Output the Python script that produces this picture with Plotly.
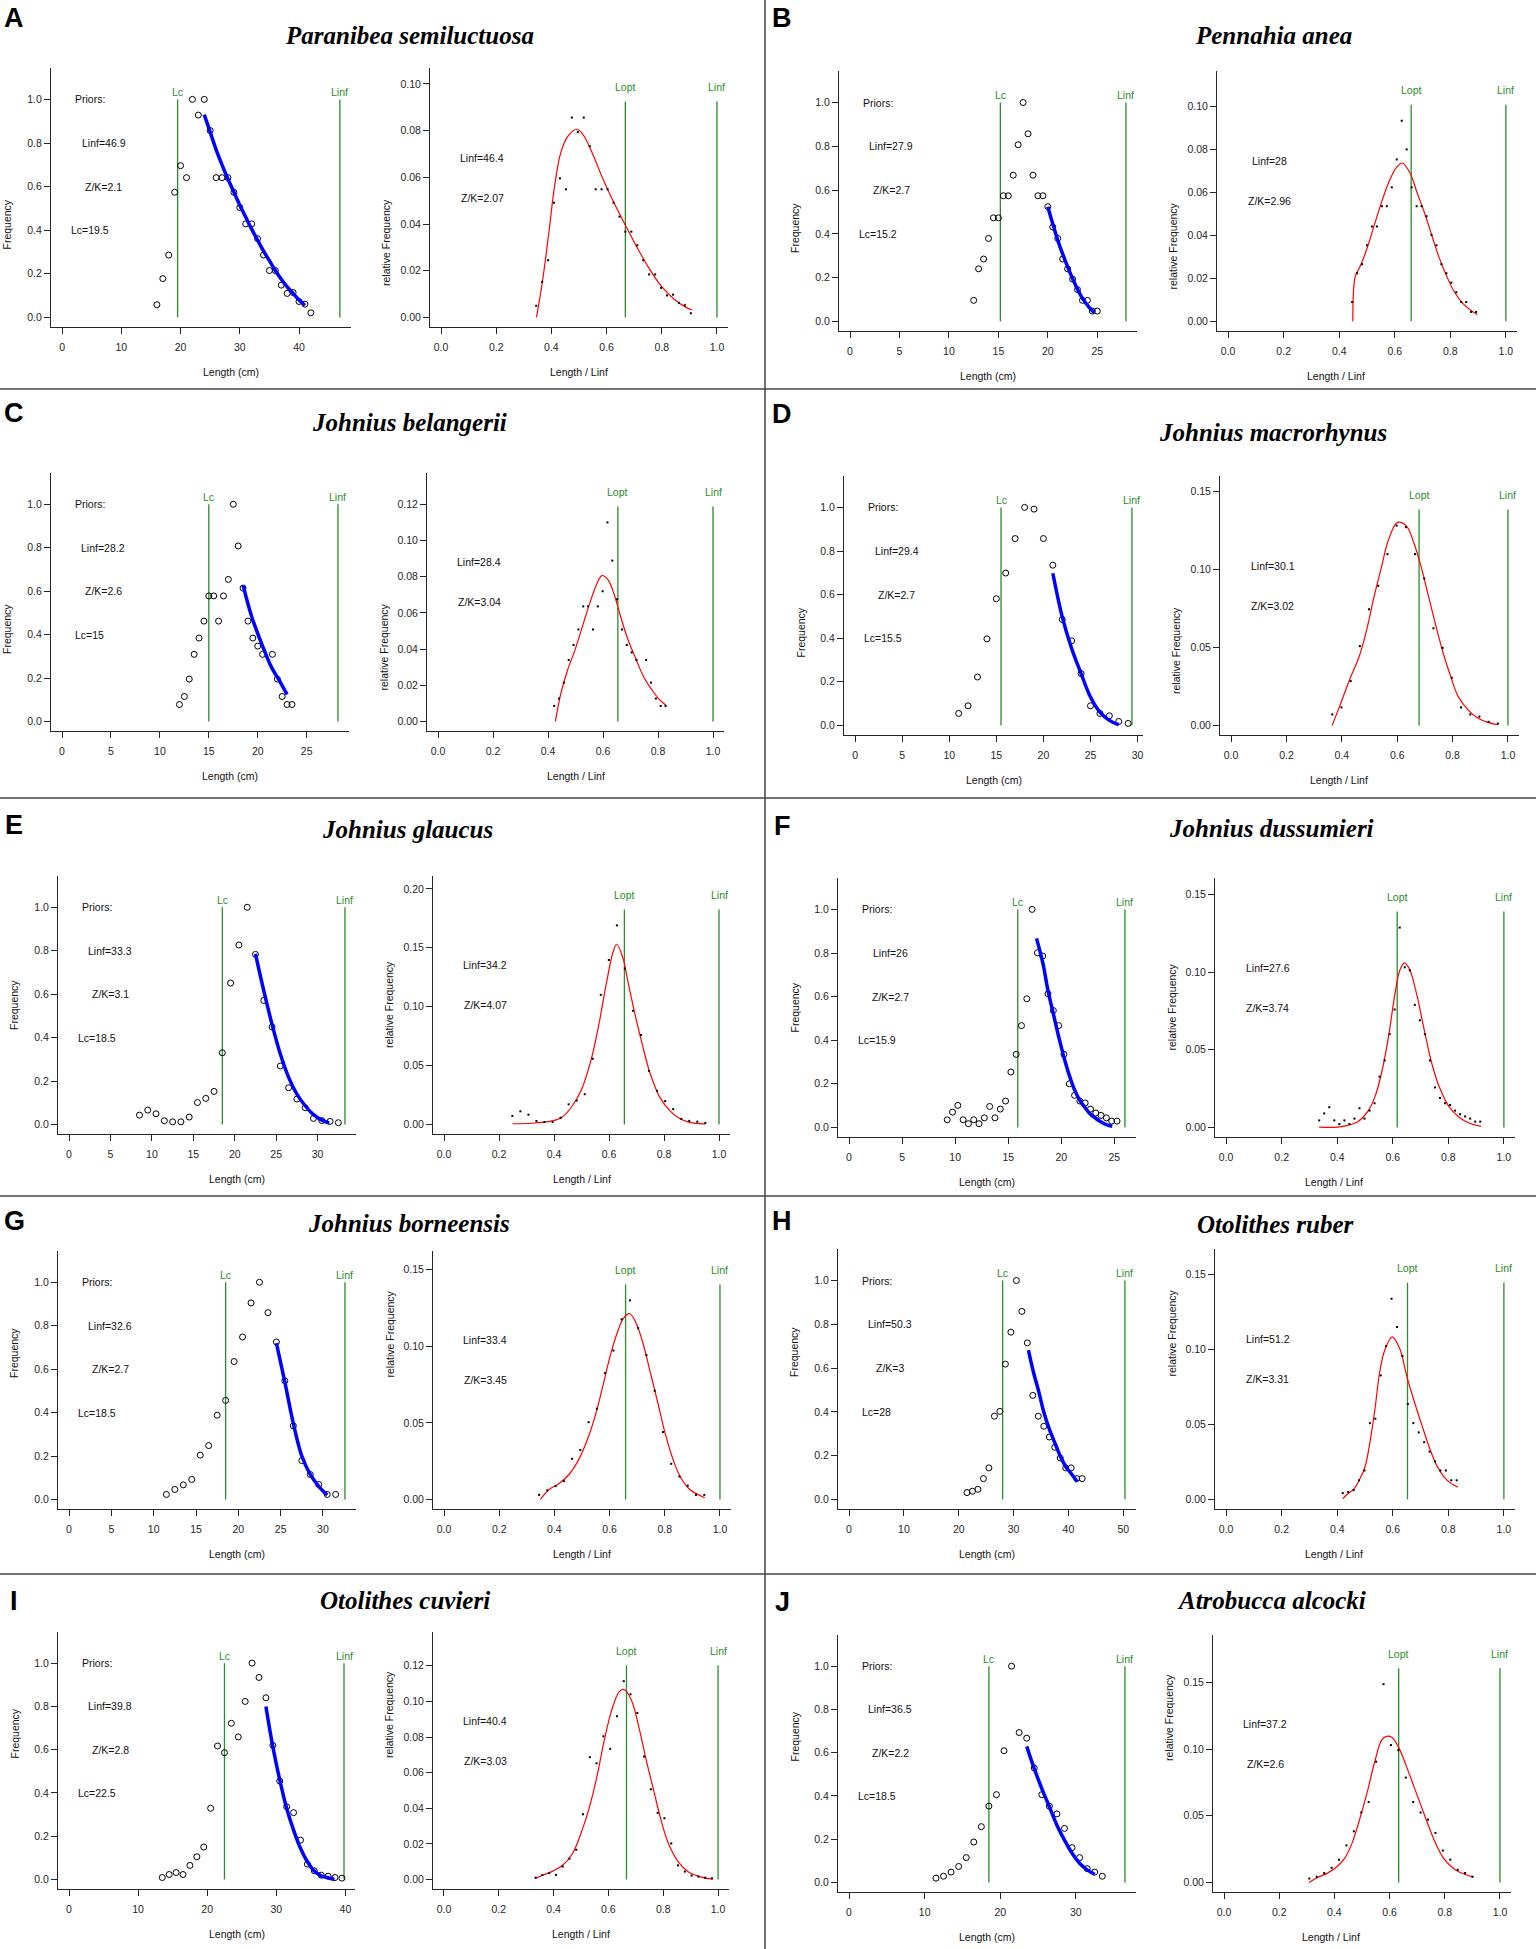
import plotly.graph_objects as go

# ---------------- data ----------------
species = ["Paranibea semiluctuosa", "Pennahia anea", "Johnius belangerii", "Johnius macrorhynus",
           "Johnius glaucus", "Johnius dussumieri", "Johnius borneensis", "Otolithes ruber",
           "Otolithes cuvieri", "Atrobucca alcocki"]
letters = ["A", "B", "C", "D", "E", "F", "G", "H", "I", "J"]

# priors (left plots) and LBB results (right plots)
prior_linf = [46.9, 27.9, 28.2, 29.4, 33.3, 26, 32.6, 50.3, 39.8, 36.5]
prior_zk = [2.1, 2.7, 2.6, 2.7, 3.1, 2.7, 2.7, 3, 2.8, 2.2]
prior_lc = [19.5, 15.2, 15, 15.5, 18.5, 15.9, 18.5, 28, 22.5, 18.5]
fit_linf = [46.4, 28, 28.4, 30.1, 34.2, 27.6, 33.4, 51.2, 40.4, 37.2]
fit_zk = [2.07, 2.96, 3.04, 3.02, 4.07, 3.74, 3.45, 3.31, 3.03, 2.6]
lopt_rel = [0.668, 0.659, 0.654, 0.679, 0.656, 0.616, 0.658, 0.653, 0.666, 0.633]

# length classes (cm) and frequency scaled to max = 1
A_len = [16, 17, 18, 19, 20, 21, 22, 23, 24, 25, 26, 27, 28, 29, 30, 31, 32, 33, 34, 35, 36, 37, 38, 39, 40, 41, 42]
A_freq = [0.058, 0.178, 0.286, 0.574, 0.696, 0.641, 1.0, 0.928, 1.0, 0.857, 0.641, 0.641, 0.641, 0.574, 0.504,
          0.429, 0.429, 0.361, 0.286, 0.215, 0.215, 0.148, 0.110, 0.114, 0.073, 0.061, 0.021]
B_len = [12.5, 13, 13.5, 14, 14.5, 15, 15.5, 16, 16.5, 17, 17.5, 18, 18.5, 19, 19.5, 20, 20.5, 21, 21.5, 22,
         22.5, 23, 23.5, 24, 24.5, 25]
B_freq = [0.096, 0.24, 0.285, 0.379, 0.473, 0.473, 0.574, 0.574, 0.668, 0.807, 1.0, 0.857, 0.668, 0.574, 0.574,
          0.524, 0.431, 0.379, 0.285, 0.24, 0.193, 0.145, 0.096, 0.096, 0.047, 0.047]
C_len = [12, 12.5, 13, 13.5, 14, 14.5, 15, 15.5, 16, 16.5, 17, 17.5, 18, 18.5, 19, 19.5, 20, 20.5, 21.5, 22,
         22.5, 23, 23.5]
C_freq = [0.078, 0.115, 0.195, 0.309, 0.384, 0.462, 0.578, 0.578, 0.462, 0.578, 0.654, 1.0, 0.808, 0.614, 0.462,
          0.384, 0.347, 0.309, 0.309, 0.195, 0.115, 0.078, 0.078]
D_len = [11, 12, 13, 14, 15, 16, 17, 18, 19, 20, 21, 22, 23, 24, 25, 26, 27, 28, 29]
D_freq = [0.055, 0.09, 0.222, 0.397, 0.581, 0.699, 0.857, 1.0, 0.992, 0.857, 0.735, 0.486, 0.388, 0.238, 0.09,
          0.055, 0.044, 0.018, 0.009]
E_len = [8.5, 9.5, 10.5, 11.5, 12.5, 13.5, 14.5, 15.5, 16.5, 17.5, 18.5, 19.5, 20.5, 21.5, 22.5, 23.5, 24.5,
         25.5, 26.5, 27.5, 28.5, 29.5, 30.5, 31.5, 32.5]
E_freq = [0.043, 0.066, 0.049, 0.017, 0.012, 0.012, 0.034, 0.101, 0.12, 0.152, 0.33, 0.651, 0.826, 1.0, 0.783,
          0.571, 0.449, 0.269, 0.169, 0.117, 0.077, 0.028, 0.018, 0.014, 0.008]
F_len = [9.25, 9.75, 10.25, 10.75, 11.25, 11.75, 12.25, 12.75, 13.25, 13.75, 14.25, 14.75, 15.25, 15.75, 16.25,
         16.75, 17.25, 17.75, 18.25, 18.75, 19.25, 19.75, 20.25, 20.75, 21.25, 21.75, 22.25, 22.75, 23.25, 23.75,
         24.25, 24.75, 25.25]
F_freq = [0.035, 0.07, 0.101, 0.035, 0.017, 0.035, 0.017, 0.044, 0.096, 0.044, 0.084, 0.121, 0.254, 0.335, 0.467,
          0.59, 1.0, 0.801, 0.786, 0.613, 0.536, 0.467, 0.335, 0.2, 0.147, 0.121, 0.112, 0.084, 0.066, 0.055,
          0.044, 0.029, 0.029]
G_len = [11.5, 12.5, 13.5, 14.5, 15.5, 16.5, 17.5, 18.5, 19.5, 20.5, 21.5, 22.5, 23.5, 24.5, 25.5, 26.5, 27.5,
         28.5, 29.5, 30.5, 31.5]
G_freq = [0.023, 0.046, 0.067, 0.092, 0.204, 0.248, 0.388, 0.456, 0.635, 0.748, 0.905, 1.0, 0.86, 0.725, 0.546,
          0.339, 0.179, 0.115, 0.069, 0.023, 0.023]
H_len = [21.5, 22.5, 23.5, 24.5, 25.5, 26.5, 27.5, 28.5, 29.5, 30.5, 31.5, 32.5, 33.5, 34.5, 35.5, 36.5, 37.5,
         38.5, 39.5, 40.5, 41.5, 42.5]
H_freq = [0.031, 0.037, 0.046, 0.095, 0.144, 0.38, 0.402, 0.618, 0.764, 1.0, 0.859, 0.715, 0.475, 0.38, 0.334,
          0.285, 0.238, 0.189, 0.144, 0.144, 0.095, 0.095]
I_len = [13.5, 14.5, 15.5, 16.5, 17.5, 18.5, 19.5, 20.5, 21.5, 22.5, 23.5, 24.5, 25.5, 26.5, 27.5, 28.5, 29.5,
         30.5, 31.5, 32.5, 33.5, 34.5, 35.5, 36.5, 37.5, 38.5, 39.5]
I_freq = [0.009, 0.023, 0.032, 0.023, 0.065, 0.105, 0.15, 0.329, 0.617, 0.586, 0.722, 0.659, 0.823, 1.0, 0.934,
          0.84, 0.62, 0.455, 0.336, 0.309, 0.182, 0.071, 0.04, 0.02, 0.015, 0.009, 0.006]
J_len = [11.5, 12.5, 13.5, 14.5, 15.5, 16.5, 17.5, 18.5, 19.5, 20.5, 21.5, 22.5, 23.5, 24.5, 25.5, 26.5, 27.5,
         28.5, 29.5, 30.5, 31.5, 32.5, 33.5]
J_freq = [0.02, 0.029, 0.048, 0.074, 0.115, 0.187, 0.258, 0.353, 0.406, 0.609, 1.0, 0.693, 0.667, 0.529, 0.406,
          0.353, 0.317, 0.25, 0.161, 0.115, 0.064, 0.048, 0.029]

# blue catch curve fits (left plots)
A_cc_x = [24, 25, 26, 27, 28, 29, 30, 31, 32, 33, 34, 35, 36, 37, 38, 39, 40, 41]
A_cc_y = [0.93, 0.85, 0.77, 0.70, 0.635, 0.575, 0.515, 0.46, 0.405, 0.355, 0.305, 0.26, 0.215, 0.175, 0.14, 0.11,
          0.08, 0.055]
B_cc_x = [20, 20.6, 21.2, 22, 22.7, 23.5, 24.2, 24.7]
B_cc_y = [0.524, 0.43, 0.345, 0.25, 0.175, 0.105, 0.063, 0.04]
C_cc_x = [18.5, 19.4, 20.4, 21.4, 22.2, 23.0]
C_cc_y = [0.627, 0.48, 0.358, 0.25, 0.189, 0.124]
D_cc_x = [21, 22, 23, 24, 25, 26, 27, 28]
D_cc_y = [0.698, 0.498, 0.353, 0.238, 0.13, 0.061, 0.023, 0.003]
E_cc_x = [22.5, 23.5, 24.5, 25.5, 26.5, 27.5, 28.5, 29.5, 30.5, 31.4]
E_cc_y = [0.785, 0.616, 0.461, 0.324, 0.217, 0.14, 0.086, 0.045, 0.02, 0.006]
F_cc_x = [17.67, 18.27, 18.74, 19.25, 19.76, 20.2, 20.7, 21.2, 21.75, 22.2, 22.7, 23.2, 23.75, 24.3, 24.8]
F_cc_y = [0.867, 0.752, 0.629, 0.522, 0.415, 0.331, 0.247, 0.178, 0.124, 0.093, 0.063, 0.043, 0.025, 0.012, 0.005]
G_cc_x = [24.5, 25.5, 26.5, 27.5, 28.5, 29.5, 30.5]
G_cc_y = [0.72, 0.54, 0.35, 0.2, 0.115, 0.06, 0.02]
H_cc_x = [32.7, 33.6, 34.6, 35.5, 36.5, 37.6, 38.6, 39.6, 40.6, 41.6]
H_cc_y = [0.682, 0.583, 0.491, 0.399, 0.322, 0.253, 0.192, 0.146, 0.115, 0.08]
I_cc_x = [28.5, 29.5, 30.5, 31.5, 32.5, 33.5, 34.5, 35.5, 36.5, 37.5, 38.4]
I_cc_y = [0.80, 0.614, 0.46, 0.329, 0.228, 0.144, 0.082, 0.039, 0.017, 0.008, 0.0]
J_cc_x = [23.5, 24.5, 25.5, 26.5, 27.5, 28.5, 29.5, 30.5, 31.5, 32.5]
J_cc_y = [0.629, 0.526, 0.434, 0.35, 0.265, 0.196, 0.135, 0.089, 0.058, 0.038]

# red LBB fits (right plots)
A_lbb_x = [0.346, 0.368, 0.391, 0.412, 0.435, 0.462, 0.494, 0.519, 0.551, 0.586, 0.625, 0.668, 0.710, 0.755,
           0.799, 0.844, 0.888, 0.909]
A_lbb_y = [0.0, 0.0158, 0.0366, 0.0567, 0.071, 0.078, 0.0806, 0.0775, 0.0696, 0.0595, 0.0495, 0.0395, 0.0301,
           0.0208, 0.0133, 0.0079, 0.0043, 0.0032]
B_lbb_x = [0.449, 0.458, 0.476, 0.503, 0.529, 0.556, 0.583, 0.609, 0.627, 0.654, 0.680, 0.707, 0.734, 0.760,
           0.787, 0.813, 0.849, 0.897]
B_lbb_y = [0.0, 0.021, 0.0257, 0.035, 0.0459, 0.0568, 0.0661, 0.072, 0.0736, 0.0692, 0.0599, 0.0505, 0.0397,
           0.0295, 0.021, 0.014, 0.0078, 0.0031]
C_lbb_x = [0.427, 0.445, 0.471, 0.498, 0.525, 0.552, 0.579, 0.596, 0.618, 0.641, 0.664, 0.689, 0.721, 0.748,
           0.775, 0.802, 0.829]
C_lbb_y = [0.0, 0.0144, 0.0283, 0.0394, 0.0524, 0.0654, 0.0765, 0.0806, 0.0783, 0.070, 0.058, 0.046, 0.034,
           0.0246, 0.0181, 0.0126, 0.0089]
D_lbb_x = [0.365, 0.392, 0.428, 0.463, 0.490, 0.517, 0.544, 0.567, 0.601, 0.633, 0.660, 0.686, 0.713, 0.740,
           0.766, 0.793, 0.820, 0.856, 0.891, 0.927, 0.963]
D_lbb_y = [0.0, 0.0122, 0.0293, 0.0443, 0.0614, 0.0828, 0.102, 0.118, 0.130, 0.1278, 0.117, 0.102, 0.0828,
           0.0636, 0.0464, 0.0315, 0.0186, 0.010, 0.0047, 0.0019, 0.0004]
E_lbb_x = [0.249, 0.32, 0.392, 0.428, 0.463, 0.499, 0.535, 0.562, 0.589, 0.615, 0.628, 0.651, 0.669, 0.696,
           0.723, 0.750, 0.785, 0.821, 0.857, 0.893, 0.95]
E_lbb_y = [0.0006, 0.001, 0.003, 0.006, 0.0146, 0.029, 0.055, 0.0835, 0.118, 0.1466, 0.153, 0.141, 0.121, 0.092,
           0.066, 0.043, 0.023, 0.0118, 0.005, 0.0017, 0.0003]
F_lbb_x = [0.335, 0.402, 0.438, 0.473, 0.509, 0.536, 0.562, 0.585, 0.607, 0.625, 0.642, 0.660, 0.687, 0.713,
           0.740, 0.767, 0.803, 0.838, 0.874, 0.918]
F_lbb_y = [0.0002, 0.0002, 0.0013, 0.0035, 0.010, 0.0198, 0.037, 0.0588, 0.085, 0.101, 0.106, 0.102, 0.085,
           0.063, 0.0415, 0.0263, 0.0132, 0.0067, 0.0028, 0.0007]
G_lbb_x = [0.349, 0.381, 0.417, 0.453, 0.488, 0.524, 0.551, 0.578, 0.605, 0.632, 0.649, 0.673, 0.694, 0.721,
           0.748, 0.775, 0.801, 0.828, 0.855, 0.891, 0.945]
G_lbb_y = [0.0, 0.0065, 0.0104, 0.0163, 0.026, 0.0413, 0.0565, 0.076, 0.0957, 0.111, 0.118, 0.1213, 0.116, 0.102,
           0.0826, 0.063, 0.0435, 0.0272, 0.0152, 0.0065, 0.0011]
H_lbb_x = [0.42, 0.438, 0.459, 0.479, 0.50, 0.518, 0.536, 0.553, 0.571, 0.598, 0.625, 0.651, 0.678, 0.705,
           0.731, 0.758, 0.785, 0.811, 0.834]
H_lbb_y = [0.0004, 0.0038, 0.0067, 0.0127, 0.0216, 0.0383, 0.0605, 0.085, 0.0995, 0.1084, 0.1006, 0.0817, 0.065,
           0.0494, 0.035, 0.0227, 0.0149, 0.0105, 0.0082]
I_lbb_x = [0.334, 0.361, 0.397, 0.433, 0.469, 0.504, 0.531, 0.558, 0.585, 0.612, 0.639, 0.657, 0.684, 0.711,
           0.738, 0.765, 0.792, 0.819, 0.855, 0.891, 0.935, 0.980]
I_lbb_y = [0.0006, 0.0024, 0.0047, 0.008, 0.0146, 0.0277, 0.0408, 0.0577, 0.0782, 0.0951, 0.1054, 0.1067, 0.1007,
           0.0857, 0.067, 0.0502, 0.0333, 0.0202, 0.0099, 0.0043, 0.0015, 0.0002]
J_lbb_x = [0.308, 0.339, 0.375, 0.41, 0.437, 0.464, 0.491, 0.518, 0.545, 0.572, 0.590, 0.608, 0.634, 0.661,
           0.688, 0.715, 0.742, 0.769, 0.796, 0.823, 0.849, 0.903]
J_lbb_y = [0.0, 0.0037, 0.007, 0.012, 0.018, 0.0295, 0.047, 0.067, 0.0895, 0.107, 0.1095, 0.1088, 0.1008, 0.087,
           0.072, 0.057, 0.042, 0.0283, 0.018, 0.012, 0.0082, 0.004]

left_dtick = [10, 5, 5, 5, 5, 5, 5, 10, 10, 10]
right_dtick = [0.02, 0.02, 0.02, 0.05, 0.05, 0.05, 0.05, 0.05, 0.02, 0.05]

lengths = [A_len, B_len, C_len, D_len, E_len, F_len, G_len, H_len, I_len, J_len]
freqs = [A_freq, B_freq, C_freq, D_freq, E_freq, F_freq, G_freq, H_freq, I_freq, J_freq]
cc_x = [A_cc_x, B_cc_x, C_cc_x, D_cc_x, E_cc_x, F_cc_x, G_cc_x, H_cc_x, I_cc_x, J_cc_x]
cc_y = [A_cc_y, B_cc_y, C_cc_y, D_cc_y, E_cc_y, F_cc_y, G_cc_y, H_cc_y, I_cc_y, J_cc_y]
lbb_x = [A_lbb_x, B_lbb_x, C_lbb_x, D_lbb_x, E_lbb_x, F_lbb_x, G_lbb_x, H_lbb_x, I_lbb_x, J_lbb_x]
lbb_y = [A_lbb_y, B_lbb_y, C_lbb_y, D_lbb_y, E_lbb_y, F_lbb_y, G_lbb_y, H_lbb_y, I_lbb_y, J_lbb_y]

# ---------------- layout (pixel boxes of each panel) ----------------
W, H = 1536, 1949
# left plot x0,x1 ; right plot x0,x1 ; top, bottom ; title x,y ; letter x,y
boxes = [
    (51, 351, 430, 728, 68, 327, 409, 35, 14, 18),
    (839, 1137, 1217, 1517, 71, 331, 1273, 35, 782, 18),
    (51, 349, 427, 724, 473, 731, 409, 422, 14, 413),
    (844, 1143, 1220, 1519, 476, 735, 1273, 432, 782, 414),
    (58, 356, 433, 730, 876, 1134, 407, 829, 14, 825),
    (838, 1136, 1215, 1515, 878, 1137, 1271, 828, 782, 826),
    (58, 356, 433, 731, 1251, 1509, 409, 1223, 14, 1221),
    (838, 1136, 1215, 1515, 1249, 1509, 1275, 1224, 782, 1221),
    (58, 355, 433, 729, 1632, 1889, 405, 1600, 14, 1601),
    (838, 1136, 1213, 1511, 1635, 1892, 1271, 1600, 782, 1602),
]

GREEN = "#2a8c2a"
AX = "#262626"
SANS = "Liberation Sans"
tick_font = dict(family=SANS, size=10.5, color=AX)
txt_font = dict(family=SANS, size=10.5, color="#111111")
green_font = dict(family=SANS, size=10.5, color=GREEN)

fig = go.Figure()
layout = {}
annotations = []
shapes = []


def px_x(p):
    return p / W


def px_y(p):
    return 1 - p / H


def axis_style(**kw):
    d = dict(showline=True, linecolor=AX, linewidth=1, ticks="outside", ticklen=6, tickcolor=AX,
             tickwidth=1, showgrid=False, zeroline=False, tickfont=tick_font, mirror=False)
    d.update(kw)
    return d


for i in range(10):
    lx0, lx1, rx0, rx1, top, bot, tx, ty, lettx, letty = boxes[i]
    kl, kr = 2 * i + 1, 2 * i + 2
    nl = "" if kl == 1 else str(kl)
    nr = str(kr)
    linf_p, linf_f = prior_linf[i], fit_linf[i]
    L, F = lengths[i], freqs[i]
    tot = sum(F)
    rel = [f / tot for f in F]
    rel_x = [l / linf_f for l in L]
    ymax_r = 1.2 * max(rel)

    ydom = [px_y(bot), px_y(top)]
    layout["xaxis" + nl] = axis_style(domain=[px_x(lx0), px_x(lx1)], anchor="y" + nl,
                                      range=[-0.04 * linf_p, 1.04 * linf_p], dtick=left_dtick[i], tick0=0,
                                      ticklabelstandoff=4)
    layout["yaxis" + nl] = axis_style(domain=ydom, anchor="x" + nl, range=[-0.044, 1.144],
                                      tickvals=[0, 0.2, 0.4, 0.6, 0.8, 1.0], tickformat=".1f")
    layout["xaxis" + nr] = axis_style(domain=[px_x(rx0), px_x(rx1)], anchor="y" + nr, range=[-0.04, 1.04],
                                      dtick=0.2, tick0=0, tickformat=".1f", ticklabelstandoff=4)
    layout["yaxis" + nr] = axis_style(domain=ydom, anchor="x" + nr, range=[-0.04 * ymax_r, 1.04 * ymax_r],
                                      dtick=right_dtick[i], tick0=0, tickformat=".2f")

    xl, yl = "x" + nl, "y" + nl
    xr, yr = "x" + nr, "y" + nr

    # left: catch curve
    for v, lab in [(prior_lc[i], "Lc"), (linf_p, "Linf")]:
        fig.add_trace(go.Scatter(x=[v, v], y=[0, 1], mode="lines", line=dict(color=GREEN, width=1.3),
                                 xaxis=xl, yaxis=yl, hoverinfo="skip"))
        annotations.append(dict(x=v, y=1.035, xref=xl, yref=yl, text=lab, showarrow=False,
                                font=green_font, yanchor="middle"))
    fig.add_trace(go.Scatter(x=L, y=F, mode="markers", xaxis=xl, yaxis=yl,
                             marker=dict(symbol="circle-open", size=6, color="black", line=dict(width=1))))
    fig.add_trace(go.Scatter(x=cc_x[i], y=cc_y[i], mode="lines", xaxis=xl, yaxis=yl,
                             line=dict(color="#0000ff", width=3.5, shape="spline")))
    for (fx, fy, t) in [(0.1, 1.0, "Priors:"), (0.15, 0.8, "Linf=%g" % linf_p),
                        (0.15, 0.6, "Z/K=%g" % prior_zk[i]), (0.1, 0.4, "Lc=%g" % prior_lc[i])]:
        annotations.append(dict(x=fx * linf_p, y=fy, xref=xl, yref=yl, text=t, showarrow=False, font=txt_font))

    # right: LBB fit
    for v, lab in [(lopt_rel[i], "Lopt"), (1.0, "Linf")]:
        fig.add_trace(go.Scatter(x=[v, v], y=[0, 0.9 * ymax_r], mode="lines", line=dict(color=GREEN, width=1.3),
                                 xaxis=xr, yaxis=yr, hoverinfo="skip"))
        annotations.append(dict(x=v, y=0.96 * ymax_r, xref=xr, yref=yr, text=lab, showarrow=False,
                                font=green_font))
    fig.add_trace(go.Scatter(x=lbb_x[i], y=lbb_y[i], mode="lines", xaxis=xr, yaxis=yr,
                             line=dict(color="#ff0000", width=1.2, shape="spline")))
    fig.add_trace(go.Scatter(x=rel_x, y=rel, mode="markers", xaxis=xr, yaxis=yr,
                             marker=dict(symbol="square", size=2, color="black", line=dict(width=0))))
    for (fy, t) in [(0.8, "Linf=%g" % linf_f), (0.6, "Z/K=%g" % fit_zk[i])]:
        annotations.append(dict(x=0.15, y=fy * max(rel), xref=xr, yref=yr, text=t, showarrow=False,
                                font=txt_font))

    # axis titles
    for x0, x1, t in [(lx0, lx1, "Length (cm)"), (rx0, rx1, "Length / Linf")]:
        annotations.append(dict(x=px_x((x0 + x1) / 2), y=px_y(bot + 45), xref="paper", yref="paper", text=t,
                                showarrow=False, font=txt_font, yanchor="middle"))
    for x0, t in [(lx0, "Frequency"), (rx0, "relative Frequency")]:
        annotations.append(dict(x=px_x(x0 - 44), y=px_y((top + bot) / 2), xref="paper", yref="paper", text=t,
                                textangle=-90, showarrow=False, font=txt_font, xanchor="center"))

    # species title and panel letter
    annotations.append(dict(x=px_x(tx), y=px_y(ty), xref="paper", yref="paper", text="<b><i>%s</i></b>" % species[i],
                            showarrow=False, font=dict(family="Liberation Serif", size=25, color="black"),
                            xanchor="center", yanchor="middle"))
    annotations.append(dict(x=px_x(lettx), y=px_y(letty), xref="paper", yref="paper", text="<b>%s</b>" % letters[i],
                            showarrow=False, font=dict(family=SANS, size=27, color="black"),
                            xanchor="center", yanchor="middle"))

# panel separators
for yy in [389, 798, 1196, 1574]:
    shapes.append(dict(type="line", xref="paper", yref="paper", x0=0, x1=1, y0=px_y(yy), y1=px_y(yy),
                       line=dict(color="#444444", width=1.5)))
shapes.append(dict(type="line", xref="paper", yref="paper", x0=px_x(765), x1=px_x(765), y0=0, y1=1,
                   line=dict(color="#444444", width=1.5)))

fig.update_layout(**layout)
fig.update_layout(width=W, height=H, margin=dict(l=0, r=0, t=0, b=0), showlegend=False,
                  plot_bgcolor="white", paper_bgcolor="white", annotations=annotations, shapes=shapes)

# drop the browser's default body margin so the figure sits at the page origin
fig.write_html("out.html", config={"displayModeBar": False},
               post_script="document.body.style.margin='0px';")
